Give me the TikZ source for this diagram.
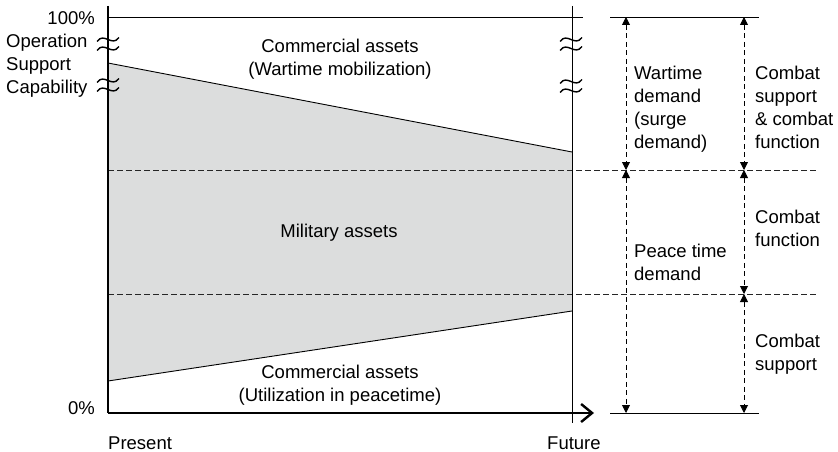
\documentclass[tikz,border=0pt]{standalone}
\usepackage{fontspec}
\setmainfont{Liberation Sans}
\usetikzlibrary{arrows.meta}
\definecolor{assetgray}{RGB}{220,221,221}
\tikzset{
    lbl/.style={inner sep=0pt, font=\fontsize{18.5}{23}\selectfont},
    axisline/.style={line width=2.4pt},
    guide/.style={line width=0.9pt, dash pattern=on 5.5pt off 3.5pt, black!85},
    span/.style={line width=0.9pt, dash pattern=on 5pt off 3.5pt,
        {Triangle[length=8pt,width=8pt]}-{Triangle[length=8pt,width=8pt]}},
}
\newcommand\BreakMark[2]{%
    \foreach \dy in {-4.5,4.5}
        \draw[line width=1.4pt] (#1-11,#2+\dy+2) .. controls (#1-4,#2+\dy-8) and (#1+4,#2+\dy+8) .. (#1+11,#2+\dy-2);
}
\begin{document}
\begin{tikzpicture}[x=1pt,y=-1pt]
    \useasboundingbox (0,0) rectangle (838,452);
    % shaded band of military assets
    \fill[assetgray] (108,63) -- (572,152) -- (572,311) -- (108,381) -- cycle;
    \draw[line width=0.9pt] (108,63) -- (572,152);
    \draw[line width=0.9pt] (108,381) -- (572,311);
    % demand levels
    \coordinate (WarLevel) at (108,170);
    \coordinate (WarLevelEnd) at (818,170);
    \coordinate (SupLevel) at (108,294);
    \coordinate (SupLevelEnd) at (818,294);
    \draw[guide] (WarLevel) -- (WarLevelEnd);
    \draw[guide] (SupLevel) -- (SupLevelEnd);
    % frame lines
    \draw[line width=0.9pt] (108,17) -- (583,17);
    \draw[line width=0.9pt] (572,6) -- (572,423);
    \draw[line width=0.9pt] (610,17) -- (759,17);
    \draw[line width=0.9pt] (610,413) -- (759,413);
    % axes
    \coordinate (Origin) at (108,413);
    \coordinate (AxisTop) at (108,6);
    \coordinate (AxisEnd) at (594,413);
    \draw[axisline] (AxisTop) -- (Origin);
    \draw[axisline, -{Straight Barb[length=11pt,width=18pt]}] (Origin) -- (AxisEnd);
    \BreakMark{108}{44}
    \BreakMark{108}{85}
    \BreakMark{571}{44}
    \BreakMark{571}{86}
    % spans on the right
    \coordinate (DemTop) at (626,17);
    \coordinate (DemMid) at (626,170);
    \coordinate (DemBot) at (626,413);
    \coordinate (FunTop) at (744,17);
    \coordinate (FunMid) at (744,170);
    \coordinate (FunLow) at (744,294);
    \coordinate (FunBot) at (744,413);
    \draw[span] (DemTop) -- (DemMid);
    \draw[span] (DemMid) -- (DemBot);
    \draw[span] (FunTop) -- (FunMid);
    \draw[span] (FunMid) -- (FunLow);
    \draw[span] (FunLow) -- (FunBot);
    % labels (base = baseline of the last line)
    \node[lbl, anchor=base east] (Pct100) at (95,25) {100\%};
    \node[lbl, anchor=base east] (Pct0) at (95,414) {0\%};
    \node[lbl, anchor=base west, align=left] (OpLabel) at (6,93.5) {Operation\\Support\\Capability};
    \node[lbl, anchor=base, align=center] (WarAssets) at (340,75) {Commercial assets\\(Wartime mobilization)};
    \node[lbl, anchor=base] (MilAssets) at (339,237) {Military assets};
    \node[lbl, anchor=base, align=center] (PeaceAssets) at (340,401) {Commercial assets\\(Utilization in peacetime)};
    \node[lbl, anchor=base west] (Present) at (108,449) {Present};
    \node[lbl, anchor=base west] (Future) at (547,449) {Future};
    \node[lbl, anchor=base west, align=left] (WarDemand) at (634,148) {Wartime\\demand\\(surge\\demand)};
    \node[lbl, anchor=base west, align=left] (PeaceDemand) at (634,280) {Peace time\\demand};
    \node[lbl, anchor=base west, align=left] (CsCf) at (755,148) {Combat\\support\\\& combat\\function};
    \node[lbl, anchor=base west, align=left] (CfOnly) at (755,246) {Combat\\function};
    \node[lbl, anchor=base west, align=left] (CsOnly) at (755,370) {Combat\\support};
\end{tikzpicture}
\end{document}
